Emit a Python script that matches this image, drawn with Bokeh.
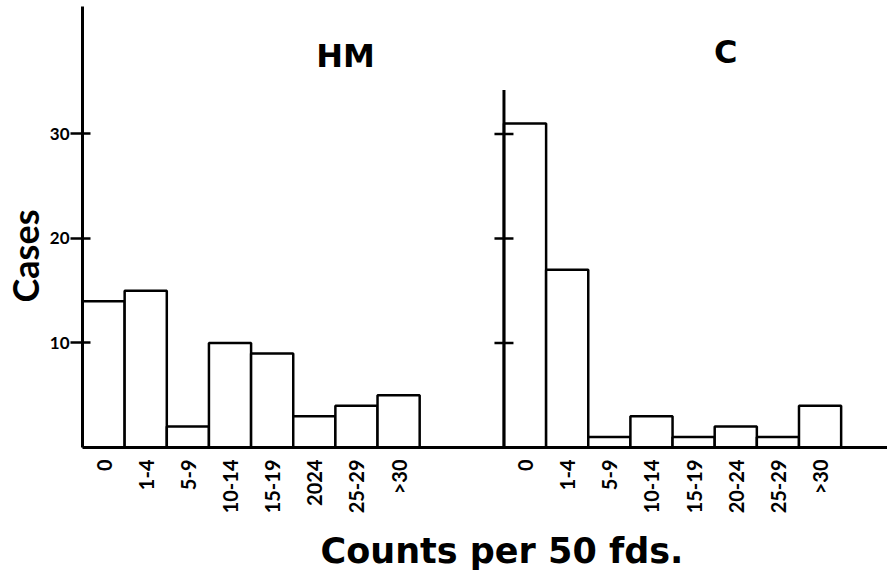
import math
from bokeh.plotting import figure
from bokeh.models import Range1d, FixedTicker, Label, Title
from bokeh.embed import file_html
from bokeh.resources import INLINE

# ---- data ----
categories = ["0", "1-4", "5-9", "10-14", "15-19", "20-24", "25-29", ">30"]
hm_labels = ["0", "1-4", "5-9", "10-14", "15-19", "2024", "25-29", ">30"]
hm_cases = [14, 15, 2, 10, 9, 3, 4, 5]
c_cases = [31, 17, 1, 3, 1, 2, 1, 4]
y_ticks = [10, 20, 30]
y_tick_labels = ["10", "20", "30"]
group_titles = ["HM", "C"]

hm_offset = 0
c_offset = 10

p = figure(width=887, height=585, output_backend="svg", toolbar_location=None,
           x_range=Range1d(0, 19.1), y_range=Range1d(0, 42.2),
           min_border_left=82, min_border_right=0, min_border_top=6, min_border_bottom=138)
p.background_fill_color = "white"
p.border_fill_color = "white"
p.outline_line_color = None
p.grid.visible = False

# bars
for off, vals in ((hm_offset, hm_cases), (c_offset, c_cases)):
    left = [off + i for i in range(len(vals))]
    right = [off + i + 1 for i in range(len(vals))]
    p.quad(left=left, right=right, bottom=0, top=vals,
           fill_color="white", line_color="black", line_width=2.5)

# y axis (HM)
ya = p.yaxis[0]
ya.ticker = FixedTicker(ticks=y_ticks)
ya.major_label_overrides = {t: l for t, l in zip(y_ticks, y_tick_labels)}
ya.major_tick_in = 8
ya.major_tick_out = 12
ya.minor_tick_line_color = None
ya.axis_line_width = 3
ya.major_tick_line_width = 2.5
ya.axis_line_color = "black"
ya.major_label_text_font = "Lato"
ya.major_label_text_font_style = "bold"
ya.major_label_text_font_size = "17px"
ya.major_label_text_color = "black"
ya.major_label_standoff = 1

# x axis
xa = p.xaxis[0]
centers = [hm_offset + i + 0.5 for i in range(len(categories))] + \
          [c_offset + i + 0.5 for i in range(len(categories))]
xa.ticker = FixedTicker(ticks=centers)
xa.major_label_overrides = {c: l for c, l in zip(centers, hm_labels + categories)}
xa.major_label_orientation = math.pi / 2
xa.major_tick_in = 0
xa.major_tick_out = 0
xa.minor_tick_line_color = None
xa.axis_line_width = 3
xa.axis_line_color = "black"
xa.major_label_text_font = "Lato"
xa.major_label_text_font_style = "bold"
xa.major_label_text_font_size = "20px"
xa.major_label_text_color = "black"
xa.major_label_standoff = 12

# C axis drawn at the group start
p.segment(x0=[c_offset], y0=[0], x1=[c_offset], y1=[34.2], line_color="black", line_width=3)
p.scatter(x=[c_offset] * len(y_ticks), y=y_ticks, marker="dash", size=19,
          line_color="black", line_width=2.5)

# group titles
for t, xc, yc in ((group_titles[0], 6.24, 37.5), (group_titles[1], 15.26, 37.8)):
    p.add_layout(Label(x=xc, y=yc, text=t, text_align="center", text_baseline="middle",
                       text_font="DejaVu Sans", text_font_style="bold",
                       text_font_size="32px", text_color="black"))

# axis titles
p.add_layout(Title(text="Cases", align="left", offset=145, standoff=0,
                   text_font="Lato", text_font_style="bold",
                   text_font_size="36px", text_color="black"), "left")
p.add_layout(Title(text="Counts per 50 fds.", align="left", offset=238, standoff=24,
                   vertical_align="bottom",
                   text_font="DejaVu Sans", text_font_style="bold",
                   text_font_size="35px", text_color="black"), "below")

open("out.html", "w").write(file_html(p, INLINE))
